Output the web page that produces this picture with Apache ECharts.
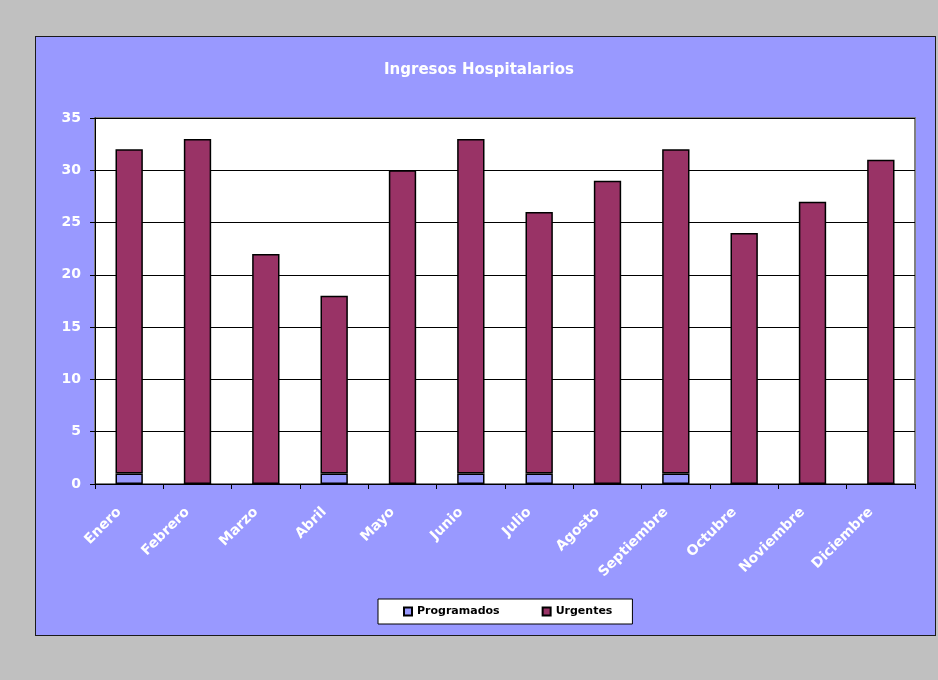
<!DOCTYPE html>
<html>
<head>
<meta charset="utf-8">
<script src="https://cdn.jsdelivr.net/npm/echarts@6/dist/echarts.min.js"></script>
<style>
html,body{margin:0;padding:0;background:#c0c0c0;width:938px;height:680px;overflow:hidden;}
#panel{position:absolute;left:35px;top:36px;width:899px;height:598px;border:1px solid #1a1a1a;background:#9999ff;}
#chart{width:899px;height:598px;}
</style>
</head>
<body>
<div id="panel"><div id="chart"></div></div>
<script>
const categories = ['Enero','Febrero','Marzo','Abril','Mayo','Junio','Julio','Agosto','Septiembre','Octubre','Noviembre','Diciembre'];
const programados = [1,0,0,1,0,1,1,0,1,0,0,0];
const urgentes = [31,33,22,17,30,32,25,29,31,24,27,31];
const yTicks = {min:0, max:35, interval:5};
const FONT = '"DejaVu Sans", Verdana, sans-serif';

const chart = echarts.init(document.getElementById('chart'), null, {renderer:'canvas'});
chart.setOption({
  backgroundColor: 'transparent',
  animation: false,
  title: {
    text: 'Ingresos Hospitalarios',
    left: 438, top: 21, textAlign: 'center',
    textStyle: {color:'#ffffff', fontFamily: FONT, fontWeight:'bold', fontSize:15}
  },
  legend: {
    data: ['Programados','Urgentes'],
    left: 342, top: 562,
    backgroundColor: '#ffffff', borderColor: '#000000', borderWidth: 1,
    padding: [7, 20, 7, 25],
    icon: 'rect',
    itemWidth: 8, itemHeight: 8, itemGap: 42,
    textStyle: {color:'#000000', fontFamily: FONT, fontWeight:'bold', fontSize:11}
  },
  grid: {
    left: 59, top: 81, width: 820, height: 366,
    show: true, backgroundColor: '#ffffff', borderColor: '#808080', borderWidth: 2
  },
  xAxis: {
    type: 'category', data: categories,
    axisLine: {show:true, lineStyle:{color:'#000000', width:1}},
    axisTick: {show:true, length:5, lineStyle:{color:'#000000'}},
    axisLabel: {rotate:45, margin:16, padding:[0,14,0,0], interval:0, color:'#ffffff', fontFamily: FONT, fontWeight:'bold', fontSize:14}
  },
  yAxis: {
    type: 'value', min: yTicks.min, max: yTicks.max, interval: yTicks.interval,
    axisLine: {show:true, lineStyle:{color:'#000000', width:1}},
    axisTick: {show:true, length:5, lineStyle:{color:'#000000'}},
    splitLine: {show:true, lineStyle:{color:'#000000', width:1}},
    axisLabel: {margin:14, color:'#ffffff', fontFamily: FONT, fontWeight:'bold', fontSize:14}
  },
  series: [
    {name:'Programados', type:'bar', stack:'total', data: programados, barWidth:'40%',
     itemStyle:{color:'#9999ff', borderColor:'#000000', borderWidth:1.5}},
    {name:'Urgentes', type:'bar', stack:'total', data: urgentes, barWidth:'40%',
     itemStyle:{color:'#993366', borderColor:'#000000', borderWidth:1.5}}
  ]
});
</script>
</body>
</html>
